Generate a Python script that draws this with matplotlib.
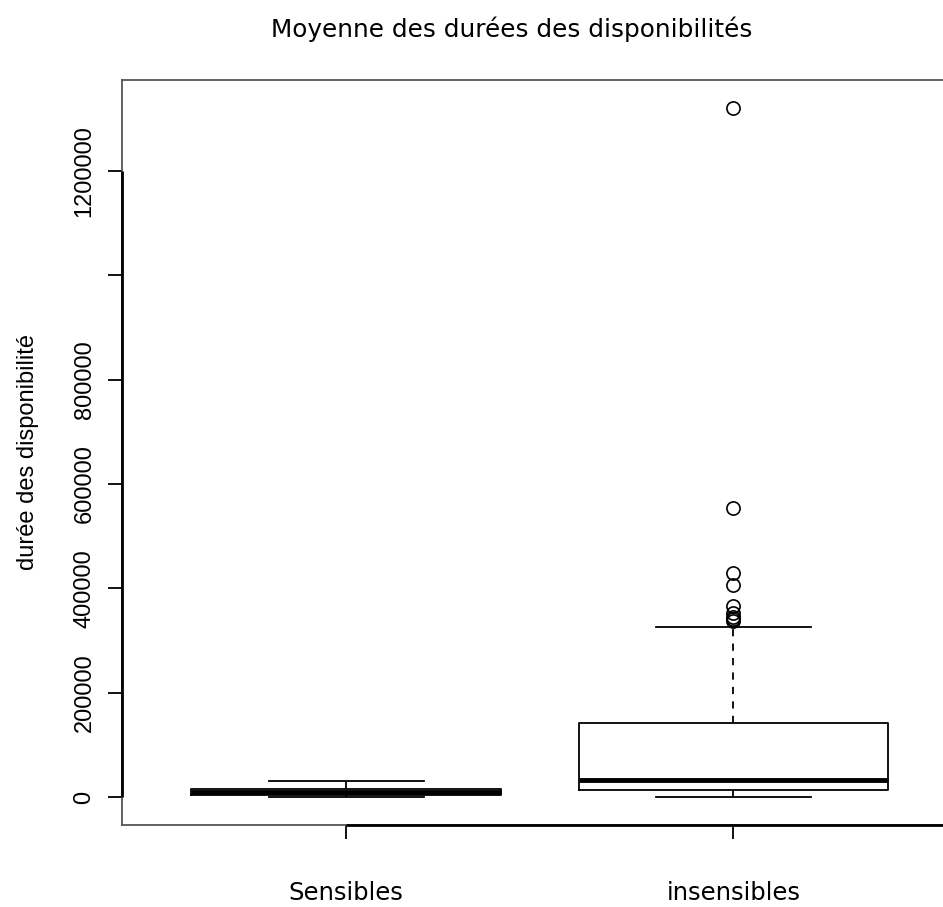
import matplotlib
matplotlib.use("Agg")
import matplotlib.pyplot as plt

groups = ["Sensibles", "insensibles"]
whislo = [0, 0]
q1 = [3000, 13500]
med = [10000, 33000]
q3 = [16000, 142000]
whishi = [30000, 326000]
fliers = [[], [1321000, 554000, 429000, 406000, 366000, 352000, 346000, 341000, 338000]]

yticks = [0, 200000, 400000, 600000, 800000, 1000000, 1200000]
ytick_labels = ["0", "200000", "400000", "600000", "800000", "", "1200000"]

fig = plt.figure(figsize=(9.43, 9.07), dpi=100)
ax = fig.add_axes([122 / 943, 1 - 825 / 907, 1.005 - 122 / 943, (825 - 80) / 907])

stats = []
for i, g in enumerate(groups):
    stats.append(dict(label=g, whislo=whislo[i], q1=q1[i], med=med[i],
                      q3=q3[i], whishi=whishi[i], fliers=fliers[i]))

ax.bxp(stats, positions=[1, 2], widths=0.8, showfliers=True,
       boxprops=dict(color="black", lw=1.3),
       medianprops=dict(color="black", lw=3.5, solid_capstyle="butt"),
       whiskerprops=dict(color="black", lw=1.3, linestyle=(0, (4, 4))),
       capprops=dict(color="black", lw=1.3),
       capwidths=0.4,
       flierprops=dict(marker="o", markerfacecolor="none", markeredgecolor="black",
                       markersize=9.5, markeredgewidth=1.2))

ax.set_xlim(1 - 223 / 385, 2 + 213 / 385)
ax.set_ylim(-53700, 1374500)

for s in ax.spines.values():
    s.set_color("#555555")
    s.set_linewidth(1.3)

# black axis lines over the tick range, like R's axis()
x0 = ax.get_xlim()[0]
y0 = ax.get_ylim()[0]
ax.plot([x0, x0], [0, 1200000], color="black", lw=2, clip_on=False,
        solid_capstyle="butt", zorder=3)
ax.plot([1, 2.6], [y0, y0], color="black", lw=2, clip_on=False,
        solid_capstyle="butt", zorder=3)

ax.set_yticks(yticks)
ax.set_yticklabels(ytick_labels, rotation=90, va="center", fontsize=17,
                   family="Liberation Sans")
ax.tick_params(axis="y", length=10, width=1.3, pad=9)
ax.set_xticks([1, 2])
ax.set_xticklabels(groups, fontsize=17.5, family="DejaVu Sans")
ax.tick_params(axis="x", length=10, width=1.3, pad=30)

ax.set_ylabel("durée des disponibilité", fontsize=17, family="Liberation Sans", labelpad=25)
fig.text(0.543, 1 - 29 / 907, "Moyenne des durées des disponibilités",
         ha="center", va="center", fontsize=17.8, family="DejaVu Sans")

fig.savefig("out.png", dpi=100)
